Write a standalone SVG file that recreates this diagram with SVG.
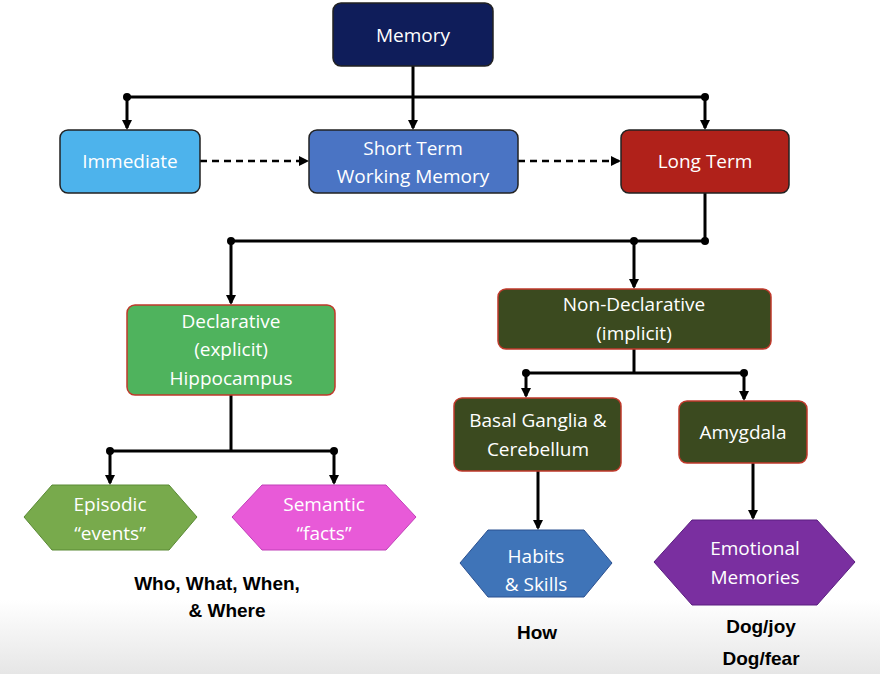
<svg xmlns="http://www.w3.org/2000/svg" width="880" height="674" viewBox="0 0 880 674">
<defs>
<marker id="ah" markerWidth="10" markerHeight="10" refX="8" refY="5" orient="auto" markerUnits="userSpaceOnUse"><path d="M0,0 L10,5 L0,10 Z" fill="#000"/></marker>
<linearGradient id="bg" x1="0" y1="0" x2="0" y2="1"><stop offset="0" stop-color="#fff"/><stop offset="1" stop-color="#e6e6e6"/></linearGradient>
</defs>
<style>
.t{font-family:"Open Sans","Liberation Sans",sans-serif;font-size:19px;fill:#fff;text-anchor:middle}
.b{font-family:"Liberation Sans",Arial,sans-serif;font-size:19px;font-weight:bold;fill:#000;text-anchor:middle}
.n{stroke:#222;stroke-width:1.5}
.r{stroke:#c0392b;stroke-width:1.5}
.c{stroke:#000;stroke-width:3;fill:none}
.d{stroke:#000;stroke-width:2.5;fill:none;stroke-dasharray:7,5}
</style>
<rect width="880" height="674" fill="#fff"/>
<rect y="600" width="880" height="74" fill="url(#bg)"/>
<g id="connectors">
<path class="c" d="M413,66 V128" marker-end="url(#ah)"/>
<path class="c" d="M127,97 H705"/>
<path class="c" d="M127,97 V128" marker-end="url(#ah)"/>
<path class="c" d="M705,97 V128" marker-end="url(#ah)"/>
<path class="d" d="M200,161 H307" marker-end="url(#ah)"/>
<path class="d" d="M518,161 H619" marker-end="url(#ah)"/>
<path class="c" d="M705,193 V241 H231"/>
<path class="c" d="M231,241 V303" marker-end="url(#ah)"/>
<path class="c" d="M634,241 V287" marker-end="url(#ah)"/>
<path class="c" d="M231,395 V451"/>
<path class="c" d="M110,451 H334"/>
<path class="c" d="M110,451 V483" marker-end="url(#ah)"/>
<path class="c" d="M334,451 V483" marker-end="url(#ah)"/>
<path class="c" d="M634,349 V373"/>
<path class="c" d="M526,373 H744"/>
<path class="c" d="M526,373 V396" marker-end="url(#ah)"/>
<path class="c" d="M744,373 V399" marker-end="url(#ah)"/>
<path class="c" d="M538,471 V528" marker-end="url(#ah)"/>
<path class="c" d="M753,463 V518" marker-end="url(#ah)"/>
<g fill="#000"><circle cx="127" cy="97" r="4"/><circle cx="705" cy="97" r="4"/><circle cx="705" cy="241" r="4"/><circle cx="231" cy="241" r="4"/><circle cx="634" cy="241" r="4"/><circle cx="110" cy="451" r="4"/><circle cx="334" cy="451" r="4"/><circle cx="526" cy="373" r="4"/><circle cx="744" cy="373" r="4"/></g>
</g>
<g id="memory"><rect class="n" x="333" y="3" width="160" height="63" rx="8" fill="#0f1d5a"/><text class="t" x="413" y="42">Memory</text></g>
<g id="immediate"><rect class="n" x="60" y="130" width="140" height="63" rx="8" fill="#4db3ec"/><text class="t" x="130" y="168">Immediate</text></g>
<g id="shortterm"><rect class="n" x="309" y="130" width="209" height="63" rx="8" fill="#4a74c4"/><text class="t" x="413" y="155">Short Term</text><text class="t" x="413" y="183">Working Memory</text></g>
<g id="longterm"><rect class="n" x="621" y="130" width="168" height="63" rx="8" fill="#b0211a"/><text class="t" x="705" y="168">Long Term</text></g>
<g id="declarative"><rect class="r" x="127" y="305" width="208" height="90" rx="8" fill="#4fb35d"/><text class="t" x="231" y="328">Declarative</text><text class="t" x="231" y="356">(explicit)</text><text class="t" x="231" y="385">Hippocampus</text></g>
<g id="nondeclarative"><rect class="r" x="498" y="289" width="273" height="60" rx="8" fill="#3b4a1f"/><text class="t" x="634" y="311">Non-Declarative</text><text class="t" x="634" y="340">(implicit)</text></g>
<g id="basal"><rect class="r" x="454" y="398" width="167" height="73" rx="8" fill="#3b4a1f"/><text class="t" x="538" y="427">Basal Ganglia &amp;</text><text class="t" x="538" y="456">Cerebellum</text></g>
<g id="amygdala"><rect class="r" x="679" y="401" width="128" height="62" rx="8" fill="#3b4a1f"/><text class="t" x="743" y="439">Amygdala</text></g>
<g id="episodic"><polygon points="24,517 52,485 169,485 197,517 169,550 52,550" fill="#78aa4c" stroke="#5a8a35"/><text class="t" x="110" y="511">Episodic</text><text class="t" x="110" y="540">“events”</text></g>
<g id="semantic"><polygon points="232,517 262,485 386,485 416,517 386,550 262,550" fill="#e85ad8" stroke="#c040b8"/><text class="t" x="324" y="511">Semantic</text><text class="t" x="324" y="540">“facts”</text></g>
<g id="habits"><polygon points="460,563 488,530 584,530 612,563 584,597 488,597" fill="#3f74b8" stroke="#2a5090"/><text class="t" x="536" y="563">Habits</text><text class="t" x="536" y="591">&amp; Skills</text></g>
<g id="emotional"><polygon points="654,562 692,520 817,520 855,562 817,605 692,605" fill="#7a2fa0" stroke="#5a1f80"/><text class="t" x="755" y="555">Emotional</text><text class="t" x="755" y="584">Memories</text></g>
<g id="labels">
<text class="b" x="217" y="590">Who, What, When,</text>
<text class="b" x="227" y="617">&amp; Where</text>
<text class="b" x="537" y="639">How</text>
<text class="b" x="761" y="633">Dog/joy</text>
<text class="b" x="761" y="665">Dog/fear</text>
</g>
</svg>
